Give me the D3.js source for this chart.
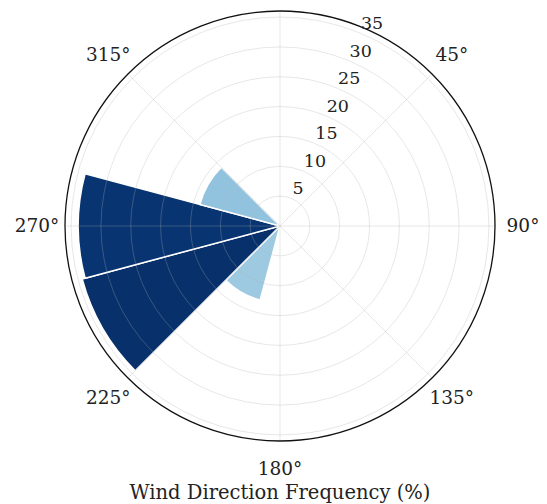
<!DOCTYPE html>
<html>
<head>
<meta charset="utf-8">
<script src="https://cdn.jsdelivr.net/npm/d3@7"></script>
<style>
  body { margin: 0; background: #fff; }
  text { font-family: "DejaVu Serif", serif; fill: #222; }
</style>
</head>
<body>
<div id="chart"></div>
<script>
// wind direction bins (compass degrees, clockwise from north) and frequency (%)
var directions = [0, 30, 60, 90, 120, 150, 180, 210, 240, 270, 300, 330];
var frequency = [0, 0, 0, 0, 0, 0, 0, 12.85, 34.3, 33.8, 13.9, 0];
var radialTicks = [5, 10, 15, 20, 25, 30, 35];
var angleTicks = [0, 45, 90, 135, 180, 225, 270, 315];
// the 0 deg label falls above the picture in the reference, so it is not drawn
var angleLabels = [45, 90, 135, 180, 225, 270, 315];
var binWidth = 30;

var width = 547, height = 504;
var cx = 280, cy = 226, outer = 215;

var svg = d3.select('#chart').append('svg')
  .attr('width', width).attr('height', height);
var g = svg.append('g').attr('transform', 'translate(' + cx + ',' + cy + ')');

var maxVal = d3.max(frequency);
var r = d3.scaleLinear().domain([0, maxVal * 1.05]).range([0, outer]);
var blues = d3.scaleLinear()
  .domain(d3.range(9).map(function(i) { return i / 8; }))
  .range(['#f7fbff', '#deebf7', '#c6dbef', '#9ecae1', '#6baed6',
          '#4292c6', '#2171b5', '#08519c', '#08306b']);
var rad = function(deg) { return deg * Math.PI / 180; };

// bars
var arc = d3.arc().innerRadius(0);
g.selectAll('path.bar')
  .data(directions.map(function(d, i) { return { dir: d, v: frequency[i] }; })
    .filter(function(d) { return d.v > 0; }))
  .enter().append('path')
  .attr('class', 'bar')
  .attr('d', function(d) {
    return arc({ outerRadius: r(d.v),
      startAngle: rad(d.dir - binWidth / 2), endAngle: rad(d.dir + binWidth / 2) });
  })
  .attr('fill', function(d) { return blues(d.v / maxVal); })
  .attr('stroke', '#fff')
  .attr('stroke-width', 1.5)
  .attr('stroke-linejoin', 'miter');

// grid (drawn over the bars)
var grid = g.append('g')
  .attr('stroke', '#b0b0b0').attr('stroke-opacity', 0.3)
  .attr('fill', 'none').attr('stroke-width', 1);
grid.selectAll('circle').data(radialTicks).enter().append('circle')
  .attr('r', function(d) { return r(d); });
grid.selectAll('line').data(angleTicks).enter().append('line')
  .attr('x1', 0).attr('y1', 0)
  .attr('x2', function(d) { return outer * Math.sin(rad(d)); })
  .attr('y2', function(d) { return -outer * Math.cos(rad(d)); });

// frame
g.append('circle').attr('r', outer)
  .attr('fill', 'none').attr('stroke', '#111').attr('stroke-width', 1.3);

// radial labels along 22.5 deg
g.selectAll('text.rlab').data(radialTicks).enter().append('text')
  .attr('class', 'rlab')
  .attr('x', function(d) { return r(d) * Math.sin(rad(22.5)) + 1; })
  .attr('y', function(d) { return -r(d) * Math.cos(rad(22.5)) - 4; })
  .attr('font-size', 17.5)
  .text(function(d) { return d; });

// angle labels
var labelR = outer + 28;
g.selectAll('text.alab').data(angleLabels).enter().append('text')
  .attr('class', 'alab')
  .attr('x', function(d) { return labelR * Math.sin(rad(d)); })
  .attr('y', function(d) { return -labelR * Math.cos(rad(d)); })
  .attr('text-anchor', 'middle')
  .attr('dy', '0.35em')
  .attr('font-size', 18.5)
  .text(function(d) { return d + '\u00b0'; });

svg.append('text')
  .attr('x', cx).attr('y', 499)
  .attr('text-anchor', 'middle')
  .attr('font-size', 19.5)
  .text('Wind Direction Frequency (%)');
</script>
</body>
</html>
